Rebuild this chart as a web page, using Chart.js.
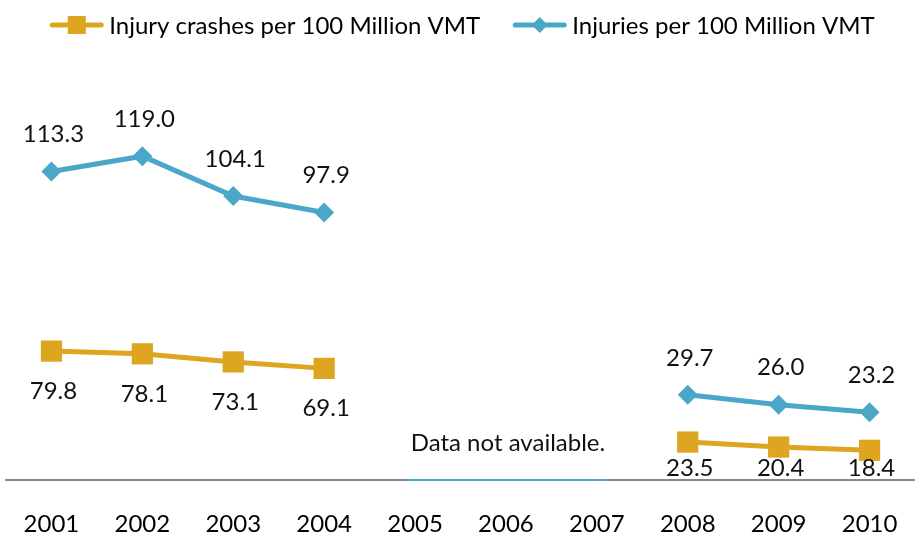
<!DOCTYPE html>
<html>
<head>
<meta charset="utf-8">
<script src="https://cdn.jsdelivr.net/npm/chart.js@4/dist/chart.umd.min.js"></script>
<style>
  html, body { margin: 0; padding: 0; background: #fff; }
  #wrap { width: 915px; height: 535px; }
</style>
</head>
<body>
<div id="wrap"><canvas id="vmtChart" width="915" height="535"></canvas></div>
<script>
// 資料
const years = ['2001', '2002', '2003', '2004', '2005', '2006', '2007', '2008', '2009', '2010'];
const injuryCrashes = [79.8, 78.1, 73.1, 69.1, null, null, null, 23.5, 20.4, 18.4];
const injuries = [113.3, 119.0, 104.1, 97.9, null, null, null, 29.7, 26.0, 23.2];
const missingYears = ['2005', '2006', '2007'];
const missingNote = 'Data not available.';

const GOLD = '#DDA520';
const BLUE = '#4BA7C8';
const FONT = 'Lato, Carlito, "Open Sans", sans-serif';

// 自訂圖例 (線 + 標記)
const legendPlugin = {
    id: 'lineLegend',
    afterDraw(chart) {
        const ctx = chart.ctx;
        const iconW = 55, gap = 5, itemGap = 32, y = 25;
        ctx.save();
        ctx.font = '24px ' + FONT;
        ctx.textBaseline = 'middle';
        const items = chart.data.datasets.map(ds => ({
            ds, w: iconW + gap + ctx.measureText(ds.label).width
        }));
        const total = items.reduce((s, it) => s + it.w, 0) + itemGap * (items.length - 1);
        let x = 462 - total / 2;
        items.forEach(it => {
            const c = it.ds.borderColor;
            ctx.strokeStyle = c;
            ctx.lineWidth = 5;
            ctx.lineCap = 'round';
            ctx.beginPath();
            ctx.moveTo(x + 3, y);
            ctx.lineTo(x + iconW - 3, y);
            ctx.stroke();
            ctx.fillStyle = c;
            const cx = x + iconW / 2;
            if (it.ds.pointStyle === 'rect') {
                ctx.fillRect(cx - 9, y - 9, 18, 18);
            } else {
                ctx.beginPath();
                ctx.moveTo(cx, y - 8);
                ctx.lineTo(cx + 8, y);
                ctx.lineTo(cx, y + 8);
                ctx.lineTo(cx - 8, y);
                ctx.closePath();
                ctx.fill();
            }
            ctx.fillStyle = '#000';
            ctx.textAlign = 'left';
            ctx.fillText(it.ds.label, x + iconW + gap, y + 1);
            x += it.w + itemGap;
        });
        ctx.restore();
    }
};

// 數值標籤 + 缺資料註記
const labelPlugin = {
    id: 'valueLabels',
    afterDatasetsDraw(chart) {
        const ctx = chart.ctx;
        const area = chart.chartArea;
        const xs = chart.scales.x;
        ctx.save();

        // 缺資料區段的藍色底線
        const step = xs.getPixelForValue(1) - xs.getPixelForValue(0);
        const x0 = xs.getPixelForValue(years.indexOf(missingYears[0])) - step * 0.1;
        const x1 = xs.getPixelForValue(years.indexOf(missingYears[missingYears.length - 1])) + step * 0.1;
        ctx.strokeStyle = BLUE;
        ctx.lineWidth = 2;
        ctx.beginPath();
        ctx.moveTo(x0, area.bottom);
        ctx.lineTo(x1, area.bottom);
        ctx.stroke();

        ctx.font = '24px ' + FONT;
        ctx.fillStyle = '#111';
        ctx.textAlign = 'center';
        ctx.textBaseline = 'middle';
        chart.data.datasets.forEach((ds, i) => {
            const meta = chart.getDatasetMeta(i);
            meta.data.forEach((pt, j) => {
                const v = ds.data[j];
                if (v === null) return;
                let y;
                if (ds.labelPos === 'above') {
                    y = pt.y - 37;
                } else {
                    y = Math.min(pt.y + 40, area.bottom - 12);
                }
                ctx.fillText(v.toFixed(1), pt.x + 2, y);
            });
        });

        const mid = xs.getPixelForValue(years.indexOf(missingYears[1]));
        ctx.fillText(missingNote, mid + 2, area.bottom - 37);
        ctx.restore();
    }
};

const ctx = document.getElementById('vmtChart').getContext('2d');
const vmtChart = new Chart(ctx, {
    type: 'line',
    data: {
        labels: years,
        datasets: [{
            label: 'Injury crashes per 100 Million VMT',
            data: injuryCrashes,
            yAxisID: 'y',
            borderColor: GOLD,
            backgroundColor: GOLD,
            borderWidth: 5,
            pointStyle: 'rect',
            pointRadius: 15,
            pointBorderWidth: 0,
            pointBackgroundColor: GOLD,
            spanGaps: false,
            labelPos: 'below'
        }, {
            label: 'Injuries per 100 Million VMT',
            data: injuries,
            yAxisID: 'y1',
            borderColor: BLUE,
            backgroundColor: BLUE,
            borderWidth: 5,
            pointStyle: 'rectRot',
            pointRadius: 10,
            pointBorderWidth: 0,
            pointBackgroundColor: BLUE,
            spanGaps: false,
            labelPos: 'above'
        }]
    },
    options: {
        responsive: false,
        animation: false,
        layout: { autoPadding: false, padding: { top: 60, left: 6, right: -6, bottom: 0 } },
        scales: {
            x: {
                offset: true,
                grid: { display: false, drawTicks: false },
                border: { display: true, color: '#888888', width: 2 },
                // padding 0 以免擠壓左右；用 lineHeight 把年份往下推
                ticks: { color: '#000', font: { family: FONT, size: 24, lineHeight: 3.67 }, padding: 0, maxRotation: 0 },
                afterFit(scale) { scale.height = 55; }
            },
            y: { display: false, min: 0, max: 260 },
            y1: { display: false, min: -2.2, max: 155 }
        },
        plugins: {
            legend: { display: false },
            tooltip: { enabled: false }
        }
    },
    plugins: [legendPlugin, labelPlugin]
});
</script>
</body>
</html>
